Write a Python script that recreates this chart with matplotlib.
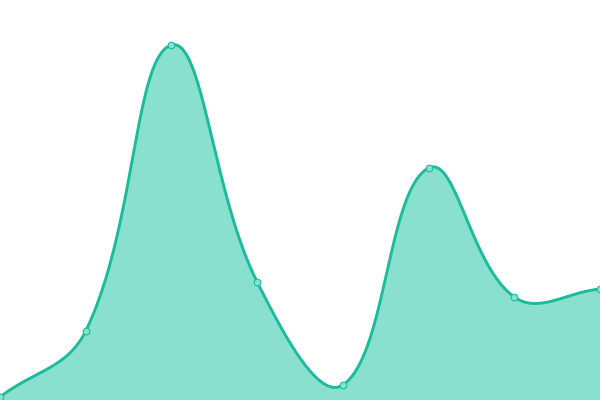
import numpy as np
import matplotlib
matplotlib.use("Agg")
import matplotlib.pyplot as plt

# values (y axis 0..400)
x_idx = [0, 1, 2, 3, 4, 5, 6, 7]
values = [3, 69, 355, 118, 15, 232, 103, 111]

LINE = "#1abc9c"
FILL = "#8ae0cf"


def spline(px, py, tension=0.4, steps=40):
    # chart.js style spline through points, done in pixel space
    n = len(px)
    cps = []
    for i in range(n):
        prev = (px[max(i - 1, 0)], py[max(i - 1, 0)])
        cur = (px[i], py[i])
        nxt = (px[min(i + 1, n - 1)], py[min(i + 1, n - 1)])
        d01 = np.hypot(cur[0] - prev[0], cur[1] - prev[1])
        d12 = np.hypot(nxt[0] - cur[0], nxt[1] - cur[1])
        s01 = d01 / (d01 + d12) if d01 + d12 else 0
        s12 = d12 / (d01 + d12) if d01 + d12 else 0
        fa = tension * s01
        fb = tension * s12
        c_prev = (cur[0] - fa * (nxt[0] - prev[0]), cur[1] - fa * (nxt[1] - prev[1]))
        c_next = (cur[0] + fb * (nxt[0] - prev[0]), cur[1] + fb * (nxt[1] - prev[1]))
        cps.append((c_prev, c_next))
    xs, ys = [], []
    t = np.linspace(0, 1, steps)
    for i in range(n - 1):
        p0 = np.array([px[i], py[i]])
        p1 = np.array(cps[i][1])
        p2 = np.array(cps[i + 1][0])
        p3 = np.array([px[i + 1], py[i + 1]])
        pts = ((1 - t) ** 3)[:, None] * p0 + (3 * (1 - t) ** 2 * t)[:, None] * p1 \
            + (3 * (1 - t) * t ** 2)[:, None] * p2 + (t ** 3)[:, None] * p3
        xs.extend(pts[:, 0])
        ys.extend(pts[:, 1])
    return np.array(xs), np.array(ys)


fig = plt.figure(figsize=(6, 4), dpi=100)
ax = fig.add_axes([0, 0, 1, 1])
ax.set_xlim(0, 7)
ax.set_ylim(0, 400)
ax.axis("off")

# spline in display coords, then back to data
disp = ax.transData.transform(np.column_stack([x_idx, values]))
sx, sy = spline(disp[:, 0], disp[:, 1])
back = ax.transData.inverted().transform(np.column_stack([sx, sy]))

ax.fill_between(back[:, 0], back[:, 1], 0, color=FILL, linewidth=0)
ax.plot(back[:, 0], back[:, 1], color=LINE, linewidth=2.1, solid_capstyle="round")
ax.plot(x_idx, values, "o", markersize=4.8, markerfacecolor=FILL,
        markeredgecolor=LINE, markeredgewidth=0.8, clip_on=True)

fig.savefig("out.png", dpi=100)
